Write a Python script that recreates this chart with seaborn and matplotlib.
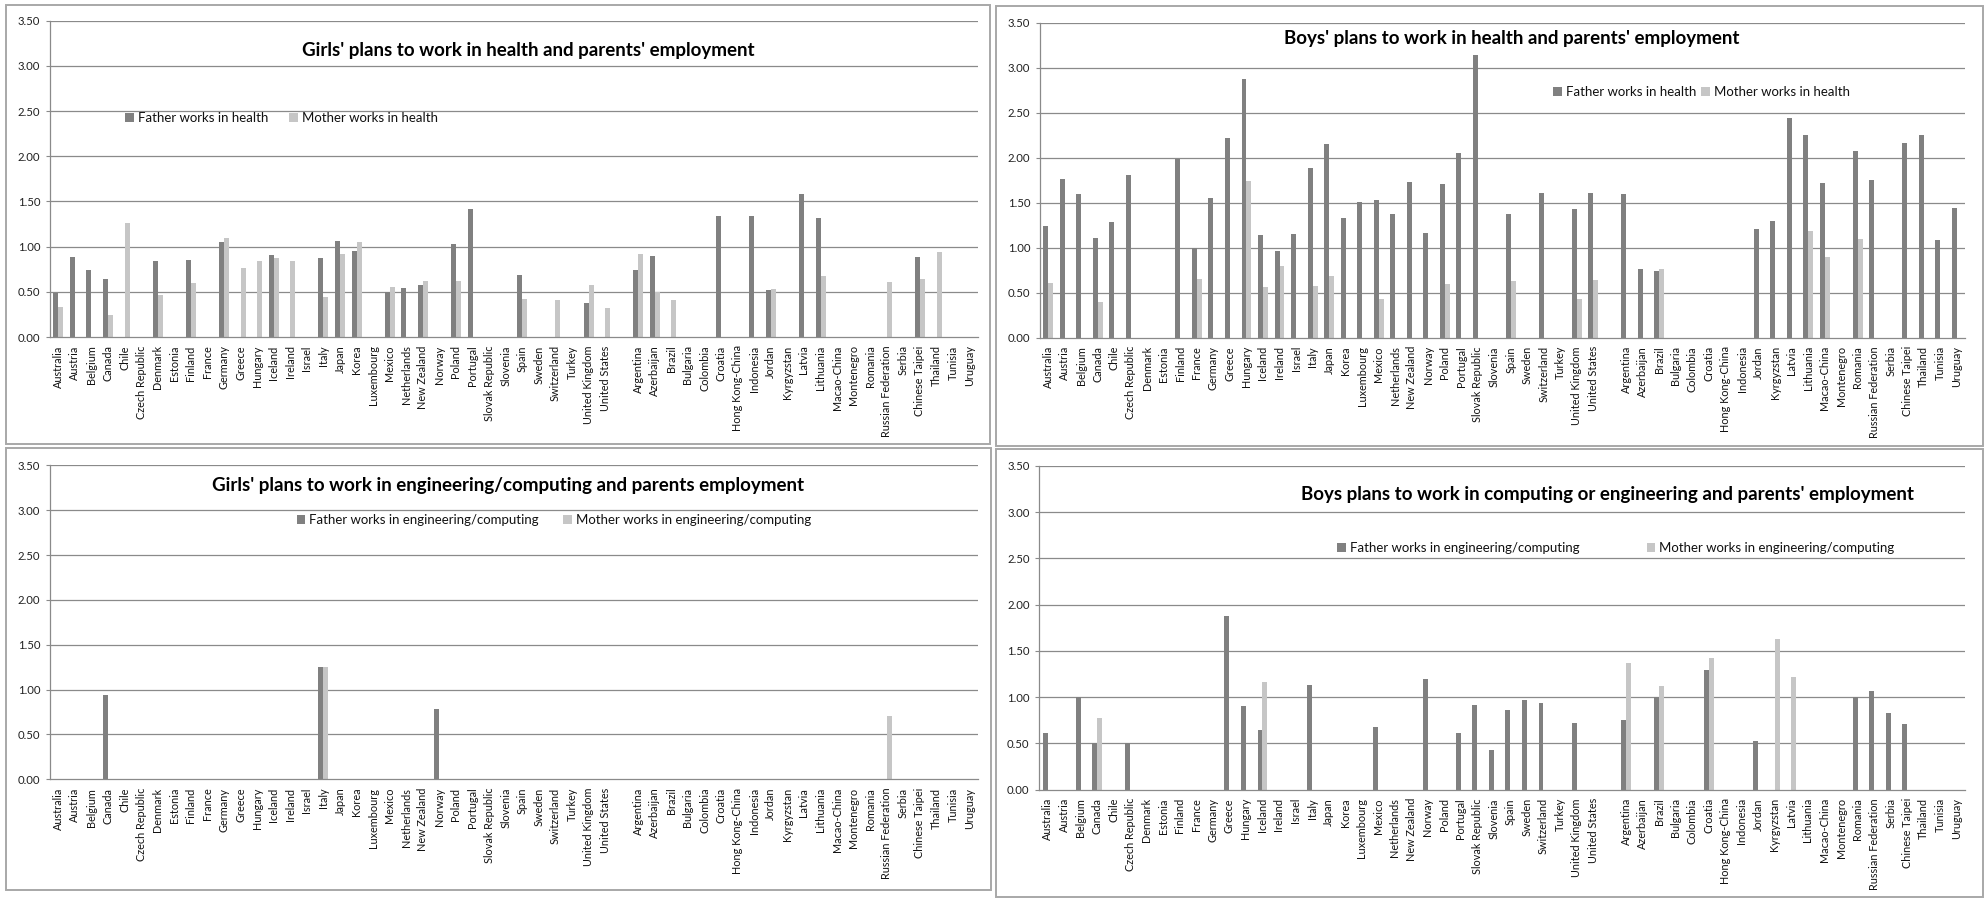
import numpy as np
import pandas as pd
import matplotlib
matplotlib.use("Agg")
import matplotlib.pyplot as plt
from matplotlib.patches import Rectangle
from matplotlib.legend import Legend
import seaborn as sns

N = None
countries = ["Australia", "Austria", "Belgium", "Canada", "Chile", "Czech Republic", "Denmark",
             "Estonia", "Finland", "France", "Germany", "Greece", "Hungary", "Iceland", "Ireland",
             "Israel", "Italy", "Japan", "Korea", "Luxembourg", "Mexico", "Netherlands",
             "New Zealand", "Norway", "Poland", "Portugal", "Slovak Republic", "Slovenia", "Spain",
             "Sweden", "Switzerland", "Turkey", "United Kingdom", "United States", " ",
             "Argentina", "Azerbaijan", "Brazil", "Bulgaria", "Colombia", "Croatia",
             "Hong Kong-China", "Indonesia", "Jordan", "Kyrgyzstan", "Latvia", "Lithuania",
             "Macao-China", "Montenegro", "Romania", "Russian Federation", "Serbia",
             "Chinese Taipei", "Thailand", "Tunisia", "Uruguay"]

girls_health_father = [0.49, 0.88, 0.74, 0.64, N, N, 0.84, N, 0.85, N,
                       1.05, N, N, 0.91, N, N, 0.87, 1.06, 0.95, N,
                       0.50, 0.54, 0.57, N, 1.03, 1.42, N, N, 0.69, N,
                       N, N, 0.38, N, N, 0.74, 0.90, N, N, N,
                       1.34, N, 1.34, 0.52, N, 1.58, 1.32, N, N, N,
                       N, N, 0.88, N, N, N]
girls_health_mother = [0.33, N, N, 0.24, 1.26, N, 0.46, N, 0.60, N,
                       1.09, 0.76, 0.84, 0.87, 0.84, N, 0.44, 0.92, 1.05, N,
                       0.55, N, 0.62, N, 0.62, N, N, N, 0.42, N,
                       0.41, N, 0.57, 0.32, N, 0.92, 0.50, 0.41, N, N,
                       N, N, N, 0.53, N, N, 0.67, N, N, N,
                       0.61, N, 0.64, 0.94, N, N]
boys_health_father = [1.24, 1.76, 1.60, 1.11, 1.29, 1.81, N, N, 1.99, 1.00,
                      1.55, 2.22, 2.88, 1.14, 0.96, 1.15, 1.89, 2.15, 1.33, 1.51,
                      1.53, 1.37, 1.73, 1.16, 1.71, 2.05, 3.14, N, 1.37, N,
                      1.61, N, 1.43, 1.61, N, 1.60, 0.76, 0.74, N, N,
                      N, N, N, 1.21, 1.30, 2.44, 2.25, 1.72, N, 2.07,
                      1.75, N, 2.16, 2.25, 1.09, 1.44]
boys_health_mother = [0.61, N, N, 0.40, N, N, N, N, N, 0.65,
                      N, N, 1.74, 0.56, 0.80, N, 0.58, 0.69, N, N,
                      0.43, N, N, N, 0.60, N, N, N, 0.63, N,
                      N, N, 0.43, 0.64, N, N, N, 0.76, N, N,
                      N, N, N, N, N, N, 1.19, 0.90, N, 1.10,
                      N, N, N, N, N, N]
girls_eng_father = [N, N, N, 0.94, N, N, N, N, N, N,
                    N, N, N, N, N, N, 1.25, N, N, N,
                    N, N, N, 0.78, N, N, N, N, N, N,
                    N, N, N, N, N, N, N, N, N, N,
                    N, N, N, N, N, N, N, N, N, N,
                    N, N, N, N, N, N]
girls_eng_mother = [N, N, N, N, N, N, N, N, N, N,
                    N, N, N, N, N, N, 1.25, N, N, N,
                    N, N, N, N, N, N, N, N, N, N,
                    N, N, N, N, N, N, N, N, N, N,
                    N, N, N, N, N, N, N, N, N, N,
                    0.71, N, N, N, N, N]
boys_eng_father = [0.61, N, 1.00, 0.50, N, 0.50, N, N, N, N,
                   N, 1.88, 0.90, 0.65, N, N, 1.13, N, N, N,
                   0.68, N, N, 1.20, N, 0.61, 0.92, 0.43, 0.86, 0.97,
                   0.94, N, 0.72, N, N, 0.75, N, 1.00, N, N,
                   1.29, N, N, 0.53, N, N, N, N, N, 1.00,
                   1.07, 0.83, 0.71, N, N, N]
boys_eng_mother = [N, N, N, 0.78, N, N, N, N, N, N,
                   N, N, N, 1.16, N, N, N, N, N, N,
                   N, N, N, N, N, N, N, N, N, N,
                   N, N, N, N, N, 1.37, N, 1.12, N, N,
                   1.42, N, N, N, 1.63, 1.22, N, N, N, N,
                   N, N, N, N, N, N]

titles = ["Girls' plans to work in health and parents' employment",
          "Boys' plans to work in health and parents' employment",
          "Girls' plans to work in engineering/computing and parents employment",
          "Boys plans to work in computing or engineering and parents' employment"]
legend_health = ["Father works in health", "Mother works in health"]
legend_eng = ["Father works in engineering/computing", "Mother works in engineering/computing"]
yticks = [0.0, 0.5, 1.0, 1.5, 2.0, 2.5, 3.0, 3.5]

DARK = "#808080"
LIGHT = "#c6c6c6"
GRID = "#8a8a8a"

sns.set_style("white")
plt.rcParams["font.family"] = ["Lato", "DejaVu Sans"]

W, H = 1988, 898
fig = plt.figure(figsize=(W / 100, H / 100), dpi=100)
fig.patch.set_facecolor("white")


def px_rect(l, t, r, b):
    return [l / W, (H - b) / H, (r - l) / W, (b - t) / H]


# panel borders
for (l, t, r, b) in [(6, 5, 990, 444), (996, 6, 1983, 446), (6, 448, 991, 890), (996, 449, 1983, 897)]:
    fig.add_artist(Rectangle((l / W, (H - b) / H), (r - l) / W, (b - t) / H,
                             transform=fig.transFigure, fill=False,
                             edgecolor="#a8a8a8", linewidth=1.4))

panels = [
    dict(rect=px_rect(50, 20.7, 978, 337), father=girls_health_father, mother=girls_health_mother,
         title=titles[0], tpos=(0.515, 0.907), labels=legend_health,
         leg1=(0.081, 0.692), leg2=(0.258, 0.692)),
    dict(rect=px_rect(1040, 22.7, 1965, 337.7), father=boys_health_father, mother=boys_health_mother,
         title=titles[1], tpos=(0.510, 0.951), labels=legend_health,
         leg1=(0.555, 0.780), leg2=(0.715, 0.780)),
    dict(rect=px_rect(50, 465.3, 978, 779.3), father=girls_eng_father, mother=girls_eng_mother,
         title=titles[2], tpos=(0.494, 0.937), labels=legend_eng,
         leg1=(0.266, 0.826), leg2=(0.553, 0.826)),
    dict(rect=px_rect(1039.3, 466, 1965, 789.7), father=boys_eng_father, mother=boys_eng_mother,
         title=titles[3], tpos=(0.614, 0.913), labels=legend_eng,
         leg1=(0.322, 0.747), leg2=(0.656, 0.747)),
]

for p in panels:
    ax = fig.add_axes(p["rect"])
    lab_f, lab_m = p["labels"]
    df = pd.DataFrame({
        "country": countries * 2,
        "value": np.array([np.nan if v is None else v for v in p["father"]] +
                          [np.nan if v is None else v for v in p["mother"]], dtype=float),
        "parent": [lab_f] * len(countries) + [lab_m] * len(countries),
    })
    sns.barplot(data=df, x="country", y="value", hue="parent", order=countries,
                hue_order=[lab_f, lab_m], palette=[DARK, LIGHT], saturation=1,
                width=0.6, errorbar=None, linewidth=0, ax=ax)
    handles, labels = ax.get_legend_handles_labels()
    if ax.get_legend() is not None:
        ax.get_legend().remove()

    ax.set_xlim(-0.5, len(countries) - 0.5)
    ax.set_ylim(0, 3.5)
    ax.set_yticks(yticks)
    ax.set_yticklabels([f"{v:.2f}" for v in yticks])
    ax.set_xlabel("")
    ax.set_ylabel("")
    ax.set_xticks(range(len(countries)))
    ax.set_xticklabels(countries, rotation=90, fontsize=7.8, color="#111111")
    ax.set_xticks(np.arange(-0.5, len(countries), 1.0), minor=True)
    ax.tick_params(axis="x", which="major", length=0, pad=6)
    ax.tick_params(axis="x", which="minor", length=3.5, width=0.8, color=GRID, direction="out")
    ax.tick_params(axis="y", which="major", length=3, width=0.8, color=GRID, labelsize=8.2,
                   labelcolor="#222222", pad=4, left=True)
    for y in yticks[1:]:
        ax.axhline(y, color=GRID, linewidth=0.9, zorder=0)
    for s in ["top", "right"]:
        ax.spines[s].set_visible(False)
    for s in ["left", "bottom"]:
        ax.spines[s].set_color(GRID)
        ax.spines[s].set_linewidth(0.9)

    ax.text(p["tpos"][0], p["tpos"][1], p["title"], transform=ax.transAxes,
            ha="center", va="center", fontsize=13.5, fontweight="bold", color="black")

    for h, l, pos in zip(handles, labels, [p["leg1"], p["leg2"]]):
        leg = Legend(ax, [h], [l], loc="center left", bbox_to_anchor=pos,
                     frameon=False, fontsize=9.5, handlelength=0.65, handleheight=0.65,
                     handletextpad=0.3, borderpad=0, borderaxespad=0)
        for t in leg.get_texts():
            t.set_color("#111111")
        ax.add_artist(leg)

fig.savefig("out.png", dpi=100, facecolor="white")
